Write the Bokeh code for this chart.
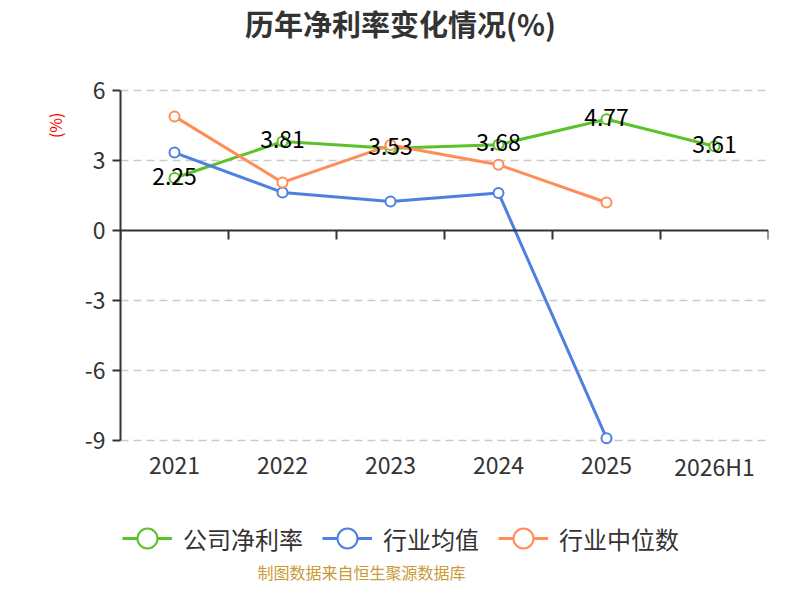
from bokeh.plotting import figure
from bokeh.models import (Range1d, FixedTicker, Label, LabelSet, Title,
                          Legend, LegendItem, ColumnDataSource)
from bokeh.core.properties import value
from bokeh.embed import file_html
from bokeh.resources import INLINE

years = ["2021", "2022", "2023", "2024", "2025", "2026H1"]
company = [2.25, 3.81, 3.53, 3.68, 4.77, 3.61]
industry_avg = [3.34, 1.63, 1.24, 1.61, -8.90]
industry_median = [4.89, 2.06, 3.66, 2.82, 1.20]
y_ticks = [-9, -6, -3, 0, 3, 6]

series_names = ["公司净利率", "行业均值", "行业中位数"]
colors = ["#5BC22B", "#4E80E2", "#FF8D57"]

FONT = "Noto Sans CJK SC"
TEXT = "#333333"

# category centres on a numeric axis, so the zero line can carry boundary ticks
xs = [i + 0.5 for i in range(len(years))]

# the frame fills the whole height so title, legend and source line can live in it;
# the y range is padded so that 6 .. -9 sits at 90 .. 440 px
p = figure(width=784, height=584,
           x_range=Range1d(0, len(years)), y_range=Range1d(-15.171, 9.857),
           x_axis_location="above",
           output_backend="svg", toolbar_location=None,
           min_border_left=120, min_border_right=16, min_border_top=0, min_border_bottom=0,
           outline_line_color=None)

# x axis used as the zero line, ticks between the categories, no labels
p.xaxis.fixed_location = 0
p.xaxis.ticker = FixedTicker(ticks=list(range(len(years) + 1)))
p.xaxis.axis_line_color = TEXT
p.xaxis.axis_line_width = 2
p.xaxis.major_tick_line_color = TEXT
p.xaxis.major_tick_line_width = 2
p.xaxis.major_tick_in = 9
p.xaxis.major_tick_out = 0
p.xaxis.minor_tick_line_color = None
p.xaxis.major_label_text_font_size = "0px"
p.xaxis.major_label_text_color = None
p.xaxis.major_label_standoff = 0

p.yaxis.ticker = FixedTicker(ticks=y_ticks)
p.yaxis.bounds = (y_ticks[0], y_ticks[-1])
p.yaxis.major_label_overrides = {t: str(t) for t in y_ticks}
p.yaxis.axis_line_color = TEXT
p.yaxis.axis_line_width = 2
p.yaxis.major_tick_line_color = TEXT
p.yaxis.major_tick_line_width = 2
p.yaxis.major_tick_out = 8
p.yaxis.major_tick_in = 0
p.yaxis.minor_tick_line_color = None
p.yaxis.major_label_text_font = FONT
p.yaxis.major_label_text_font_size = "23px"
p.yaxis.major_label_text_color = TEXT
p.yaxis.major_label_standoff = 7

p.add_layout(Title(text="(%)", align="right", offset=112, vertical_align="middle", standoff=28,
                   text_font=FONT, text_font_size="16px", text_font_style="normal",
                   text_color="red"), "left")

p.xgrid.visible = False
p.ygrid.ticker = FixedTicker(ticks=[t for t in y_ticks if t != 0])
p.ygrid.grid_line_color = "#cccccc"
p.ygrid.grid_line_width = 1.5
p.ygrid.grid_line_dash = "8 5"

items = []
for name, vals, c in zip(series_names, [company, industry_avg, industry_median], colors):
    x = xs[:len(vals)]
    ln = p.line(x, vals, line_color=c, line_width=3)
    sc = p.scatter(x, vals, marker="circle", size=10, fill_color="white", line_color=c, line_width=2)
    items.append(LegendItem(label=name, renderers=[ln, sc]))

# category labels under the plot area
cat_src = ColumnDataSource(dict(x=xs, y=[y_ticks[0]] * len(years), t=years))
p.add_layout(LabelSet(x="x", y="y", text="t", source=cat_src, text_align="center",
                      text_baseline="middle", y_offset=-25, text_font=value(FONT),
                      text_font_size="23px", text_color=TEXT))

src = ColumnDataSource(dict(x=xs, y=company, t=["%.2f" % v for v in company]))
p.add_layout(LabelSet(x="x", y="y", text="t", source=src, text_align="center",
                      text_baseline="middle", y_offset=2, text_font=value(FONT),
                      text_font_size="23px", text_color="black"))

legend = Legend(items=items, orientation="horizontal", location=(2, 21),
                glyph_width=50, glyph_height=50, label_height=24, label_standoff=11,
                spacing=19, padding=0, margin=0, border_line_color=None,
                background_fill_alpha=0, label_text_font=FONT,
                label_text_font_size="24px", label_text_color=TEXT)
p.add_layout(legend, "center")

p.add_layout(Label(x=280, y=562, x_units="screen", y_units="screen",
                   text="历年净利率变化情况(%)", text_align="center", text_baseline="middle",
                   text_font=FONT, text_font_size="29px", text_font_style="bold",
                   text_color=TEXT))
p.add_layout(Label(x=241, y=13, x_units="screen", y_units="screen",
                   text="制图数据来自恒生聚源数据库", text_align="center", text_baseline="middle",
                   text_font=FONT, text_font_size="16px", text_color="#C99A35"))

open("out.html", "w").write(file_html(p, INLINE))
